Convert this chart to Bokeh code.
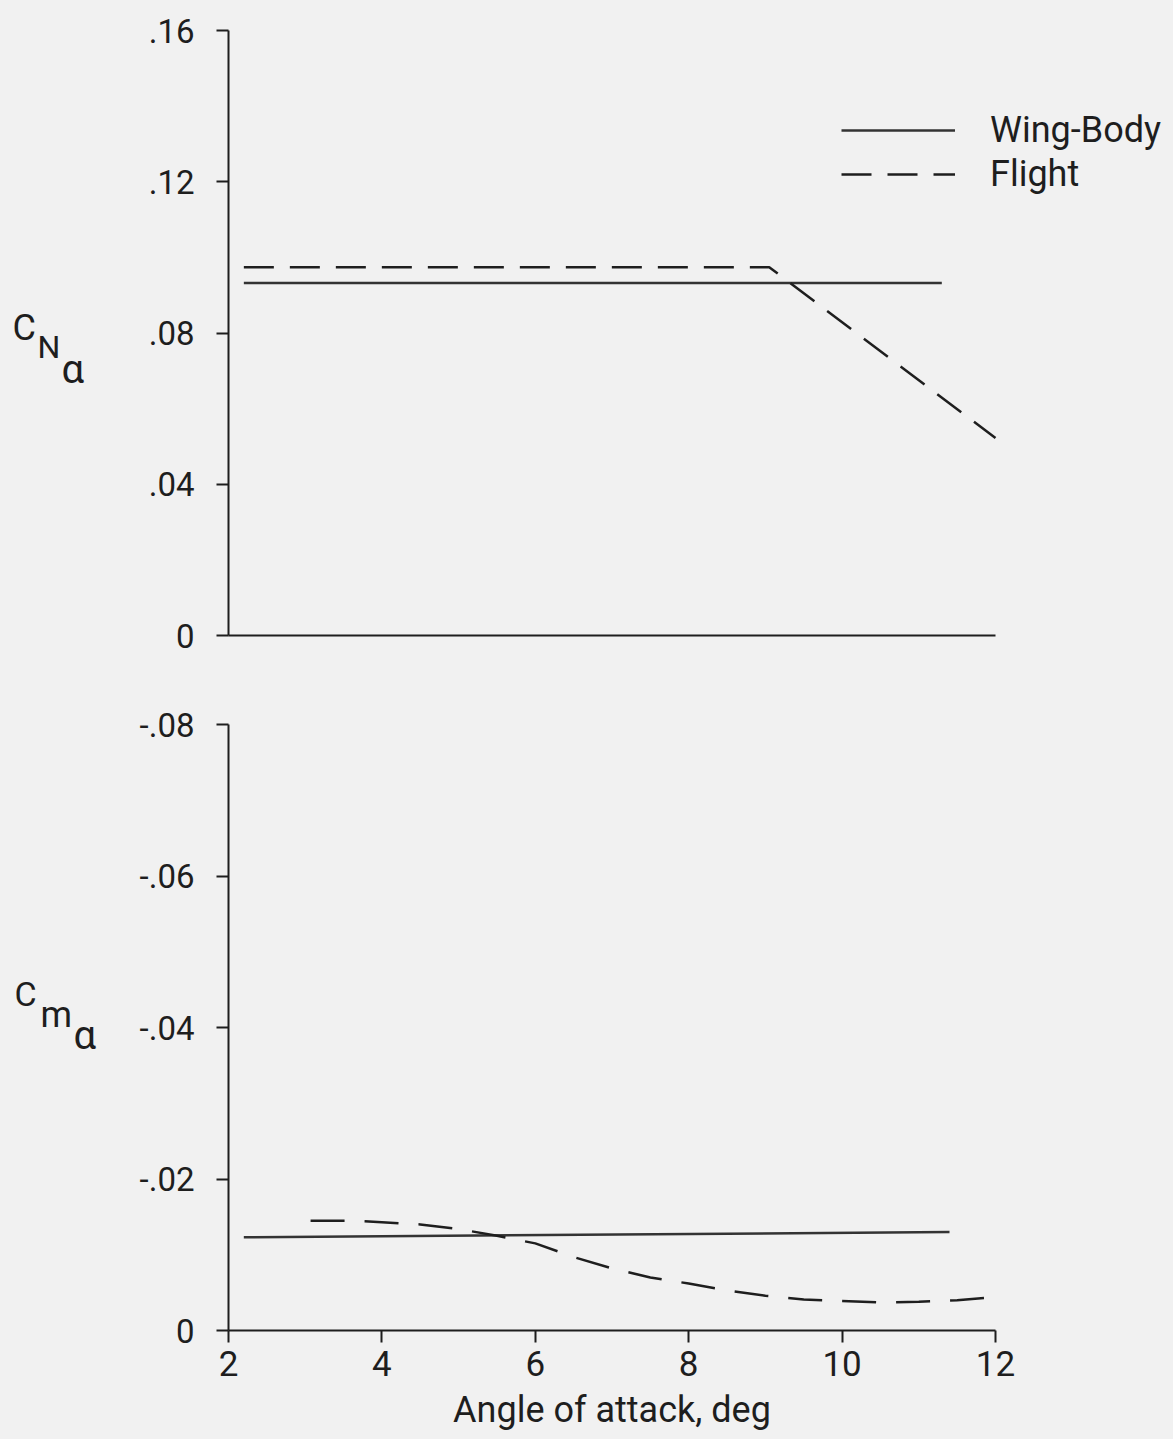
from bokeh.plotting import figure
from bokeh.models import Range1d, FixedTicker, Legend, LegendItem
from bokeh.core.properties import value
from bokeh.layouts import column, row
from bokeh.embed import file_html
from bokeh.resources import INLINE

# ---------------- data ----------------
x_ticks = [2, 4, 6, 8, 10, 12]
cn_ticks = [0, 0.04, 0.08, 0.12, 0.16]
cn_tick_labels = ["0", ".04", ".08", ".12", ".16"]
cm_ticks = [0, -0.02, -0.04, -0.06, -0.08]
cm_tick_labels = ["0", "-.02", "-.04", "-.06", "-.08"]

cn_wb_alpha = [2.2, 11.3]
cn_wb = [0.0932, 0.0932]
cn_fl_alpha = [2.2, 9.05, 12.0]
cn_fl = [0.0974, 0.0974, 0.0522]

cm_wb_alpha = [2.2, 11.4]
cm_wb = [-0.0123, -0.0130]
cm_fl_alpha = [3.07, 3.6, 4.0, 4.5, 5.0, 5.5, 6.0, 6.5, 7.0, 7.5, 8.0, 8.5, 9.0,
               9.5, 10.0, 10.5, 11.0, 11.5, 12.0]
cm_fl = [-0.0145, -0.0145, -0.0143, -0.0140, -0.0134, -0.0125, -0.0115, -0.0097,
         -0.0082, -0.0070, -0.0062, -0.0053, -0.0046, -0.0041, -0.0039, -0.0037,
         -0.0038, -0.0040, -0.0044]

FONT = "Roboto"
BG = "#f1f1f1"
INK = "#1e1e1e"
LAB_W = 110
MAIN_W = 1173 - LAB_W
TOP_H = 680
BOT_H = 759
PX_PER_DEG = 767 / 10.0


def style(p):
    p.background_fill_color = BG
    p.border_fill_color = BG
    p.outline_line_color = None
    p.grid.visible = False
    for ax in p.axis:
        ax.axis_line_color = INK
        ax.axis_line_width = 2
        ax.major_tick_line_color = INK
        ax.major_tick_line_width = 2
        ax.major_tick_out = 12
        ax.major_tick_in = 0
        ax.minor_tick_line_color = None
        ax.major_label_text_font = FONT
        ax.major_label_text_font_size = "33px"
        ax.major_label_text_color = INK
        ax.axis_label_text_font = FONT
        ax.axis_label_text_font_style = "normal"
        ax.axis_label_text_color = INK


def label_fig(height, pieces, offset):
    f = figure(width=LAB_W, height=height, output_backend="svg", toolbar_location=None,
               x_range=Range1d(0, LAB_W), y_range=Range1d(height, 0),
               x_axis_type=None, y_axis_type=None,
               min_border=0, min_border_left=0, min_border_right=0,
               min_border_top=0, min_border_bottom=0)
    f.background_fill_color = BG
    f.border_fill_color = BG
    f.outline_line_color = None
    f.grid.visible = False
    for txt, px, py, fs in pieces:
        f.text(x=[px], y=[py - offset], text=[txt], text_font=value(FONT),
               text_font_size=value(fs), text_color=INK, text_baseline="alphabetic",
               text_align="left")
    return f


# ---------------- top panel ----------------
top_xmax = 2 + (MAIN_W - 118) / PX_PER_DEG
top = figure(width=MAIN_W, height=TOP_H, output_backend="svg", toolbar_location=None,
             x_range=Range1d(2, top_xmax), y_range=Range1d(0, 0.16),
             min_border_left=118, min_border_right=0,
             min_border_top=30, min_border_bottom=45)
style(top)
top.yaxis.ticker = FixedTicker(ticks=cn_ticks)
top.yaxis.major_label_overrides = {t: s for t, s in zip(cn_ticks, cn_tick_labels)}
top.yaxis.major_label_standoff = 22
top.xaxis.ticker = FixedTicker(ticks=[])
top.xaxis.bounds = (x_ticks[0], x_ticks[-1])
top.xaxis.major_tick_line_color = None
top.xaxis.major_label_text_font_size = "0px"

r_wb = top.line(cn_wb_alpha, cn_wb, line_color="#333333", line_width=2.5)
r_fl = top.line(cn_fl_alpha, cn_fl, line_color=INK, line_width=2.5, line_dash="30 16")

legend = Legend(items=[LegendItem(label="Wing-Body", renderers=[r_wb]),
                       LegendItem(label="Flight", renderers=[r_fl])],
                location=(613, 439), padding=0, margin=0, spacing=0,
                glyph_width=114, glyph_height=44, label_height=44,
                label_standoff=35, border_line_color=None,
                background_fill_alpha=0,
                label_text_font=FONT, label_text_font_size="36px",
                label_text_color=INK)
top.add_layout(legend)

lab_top = label_fig(TOP_H, [("C", 12, 334, "36px"),
                            ("N", 37, 356, "32px"),
                            ("α", 61, 381, "40px")], 0)

# ---------------- bottom panel ----------------
bot = figure(width=MAIN_W, height=BOT_H, output_backend="svg", toolbar_location=None,
             x_range=Range1d(2, 12), y_range=Range1d(0, -0.08),
             min_border_left=118, min_border_right=178,
             min_border_top=44, min_border_bottom=109)
style(bot)
bot.yaxis.ticker = FixedTicker(ticks=cm_ticks)
bot.yaxis.major_label_overrides = {t: s for t, s in zip(cm_ticks, cm_tick_labels)}
bot.yaxis.major_label_standoff = 22
bot.xaxis.ticker = FixedTicker(ticks=x_ticks)
bot.xaxis.major_label_standoff = 8
bot.xaxis.major_label_text_font_size = "35px"
bot.xaxis.axis_label = "Angle of attack, deg"
bot.xaxis.axis_label_text_font_size = "36px"
bot.xaxis.axis_label_standoff = 10

bot.line(cm_wb_alpha, cm_wb, line_color="#333333", line_width=2.5)
bot.line(cm_fl_alpha, cm_fl, line_color=INK, line_width=2.5, line_dash="34 20")

lab_bot = label_fig(BOT_H, [("C", 14, 1018, "34px"),
                            ("m", 40, 1044, "36px"),
                            ("α", 73, 1069, "40px")], TOP_H)

layout = column(row(lab_top, top, spacing=0), row(lab_bot, bot, spacing=0), spacing=0)
layout.styles = {"background-color": BG}
open("out.html", "w").write(file_html(layout, INLINE))
